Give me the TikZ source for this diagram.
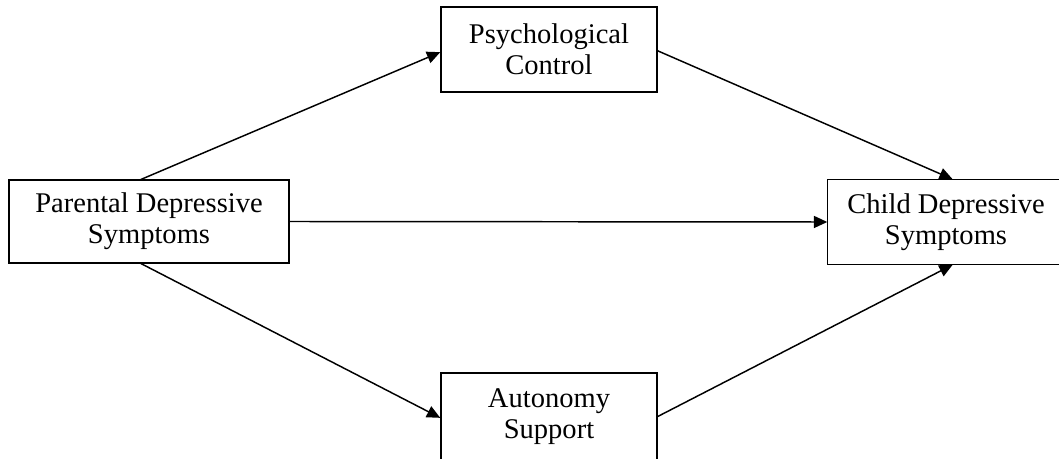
\documentclass[tikz,border=0pt]{standalone}
\usepackage{fontspec}
\setmainfont{Liberation Serif}
\usetikzlibrary{arrows.meta}
\begin{document}
\begin{tikzpicture}[x=0.75pt,y=-0.75pt,
  box/.style={draw, line width=1.1pt, inner sep=0pt, align=center,
    font=\fontsize{21.4}{23.3}\selectfont},
  link/.style={line width=1.1pt, -{Triangle[length=10pt,width=9pt]}}]
\useasboundingbox (0,0) rectangle (1059,459);
\begin{scope}
\clip (-5,-5) rectangle (1059,459);
\node[box, minimum width=162pt, minimum height=64pt] (psy) at (549,49.5) {Psychological\\Control};
\node[box, minimum width=210pt, minimum height=62pt] (par) at (149,221.5) {Parental Depressive\\Symptoms};
\node[box, draw=none, minimum width=177pt, minimum height=63pt] (chi) at (946,222) {Child Depressive\\Symptoms};
\draw[line width=1.1pt] (chi.north east) -- (chi.north west) -- (chi.south west) -- (chi.south east);
\node[box, minimum width=162pt, minimum height=65pt] (aut) at (549,416.5) {Autonomy\\Support};
\draw[link] ([xshift=-6pt]par.north) -- ([yshift=-2pt]psy.west);
\draw[link] (par.east) -- (chi.west);
\draw[link] ([xshift=-6pt]par.south) -- ([yshift=-1pt]aut.west);
\draw[link] ([yshift=-1pt]psy.east) -- ([xshift=5pt]chi.north);
\draw[link] (aut.east) -- ([xshift=5pt]chi.south);
\end{scope}
\end{tikzpicture}
\end{document}
